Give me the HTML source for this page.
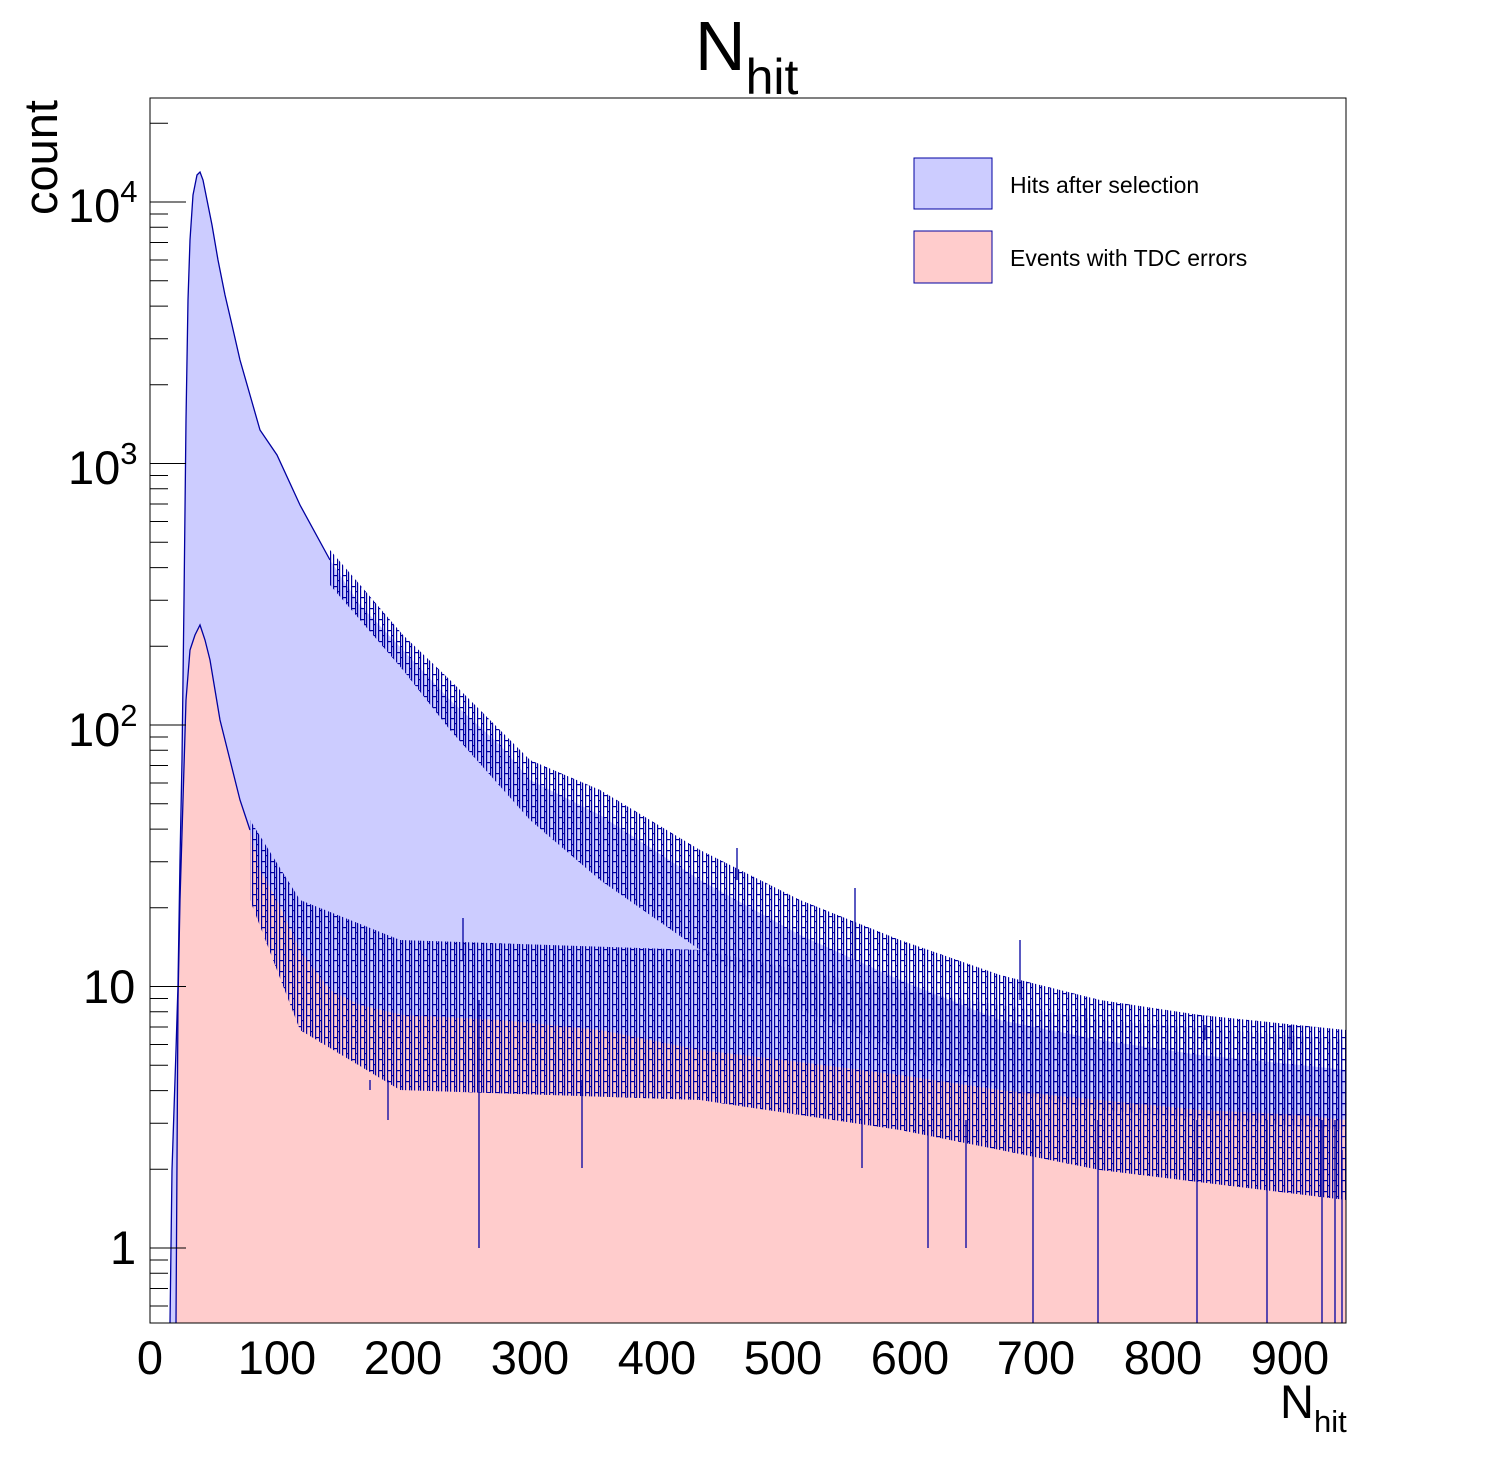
<!DOCTYPE html>
<html><head><meta charset="utf-8"><style>
body{margin:0;background:#fff;}
svg{display:block;font-family:"Liberation Sans",sans-serif;}
</style></head><body>
<svg width="1496" height="1472" xmlns="http://www.w3.org/2000/svg">
<defs>
<clipPath id="c"><rect x="150" y="98" width="1196" height="1225"/></clipPath>
<pattern id="pn" x="0" y="0" width="9" height="11" patternUnits="userSpaceOnUse">
<rect x="0" y="0" width="1.2" height="11" fill="#0000a0"/>
<rect x="4" y="0" width="1.2" height="11" fill="#0000a0"/>
<rect x="6" y="0" width="1.2" height="11" fill="#0000a0"/>
<rect x="0" y="3" width="4" height="1.2" fill="#0000a0"/>
<rect x="5" y="8" width="2" height="1.2" fill="#0000a0"/>
</pattern>
</defs>
<rect width="1496" height="1472" fill="#fff"/>
<g clip-path="url(#c)">
<path fill="#ccccff" d="M170,1323 L172,1170 176,1050 178,985 180,860 182,760 184,600 186,420 188,300 190,240 193,195 197,175 200,172 203,180 207,200 212,225 218,260 225,295 232,325 240,360 250,395 260,430 277,455 300,505 330,560 360,605 403,650 450,700 500,745 530,780 600,815 700,880 800,935 900,980 1000,1020 1100,1040 1200,1055 1300,1065 1346,1070 V1323 Z"/>
<path fill="#ffcccc" d="M176,1323 L178,1000 180,900 183,800 186,700 190,650 195,635 200,625 205,640 210,660 215,690 220,720 230,760 240,800 250,830 260,870 277,900 300,950 330,990 360,1005 403,1015 500,1020 600,1030 700,1050 800,1062 900,1075 1000,1090 1100,1100 1200,1110 1300,1115 1346,1120 V1323 Z"/>
<path fill="url(#pn)" d="M250,820 L300,900 400,940 700,950 900,990 1100,1020 1346,1040 L1346,1200 1100,1170 900,1130 700,1100 400,1090 300,1030 250,900 Z"/>
<path fill="url(#pn)" d="M330,550 L403,635 450,680 530,760 600,790 700,850 800,900 900,940 1000,975 1100,1000 1200,1015 1346,1030 L1346,1130 1100,1110 1000,1090 900,1050 800,1010 700,950 600,880 530,820 450,730 403,670 330,585 Z"/>
<path fill="none" stroke="#0000a0" stroke-width="1.3" d="M170,1323 L172,1170 176,1050 178,985 180,860 182,760 184,600 186,420 188,300 190,240 193,195 197,175 200,172 203,180 207,200 212,225 218,260 225,295 232,325 240,360 250,395 260,430 277,455 300,505 330,560"/>
<path fill="none" stroke="#0000a0" stroke-width="1.3" d="M176,1323 L178,1000 180,900 183,800 186,700 190,650 195,635 200,625 205,640 210,660 215,690 220,720 230,760 240,800 250,830"/>
<g stroke="#0000a0" stroke-width="1.3">
<line x1="479" y1="1000" x2="479" y2="1248"/><line x1="582" y1="1080" x2="582" y2="1168"/>
<line x1="388" y1="1080" x2="388" y2="1120"/><line x1="370" y1="1080" x2="370" y2="1090"/>
<line x1="862" y1="1100" x2="862" y2="1168"/><line x1="928" y1="1120" x2="928" y2="1248"/>
<line x1="966" y1="1120" x2="966" y2="1248"/><line x1="1033" y1="1120" x2="1033" y2="1323"/>
<line x1="1098" y1="1120" x2="1098" y2="1323"/><line x1="1197" y1="1120" x2="1197" y2="1323"/>
<line x1="1267" y1="1120" x2="1267" y2="1323"/><line x1="1322" y1="1120" x2="1322" y2="1323"/>
<line x1="1335" y1="1120" x2="1335" y2="1323"/><line x1="1342" y1="1150" x2="1342" y2="1323"/>
<line x1="1020" y1="1000" x2="1020" y2="940"/><line x1="1085" y1="1030" x2="1085" y2="1008"/>
<line x1="855" y1="960" x2="855" y2="888"/><line x1="737" y1="880" x2="737" y2="848"/>
<line x1="463" y1="960" x2="463" y2="918"/>
<line x1="1205" y1="1040" x2="1205" y2="1025"/><line x1="1290" y1="1050" x2="1290" y2="1025"/>
</g>
</g>
<rect x="150" y="98" width="1196" height="1225" fill="none" stroke="#000" stroke-width="1"/>
<path stroke="#000" stroke-width="1" fill="none" d="
M150,1248H186 M150,986.5H186 M150,725H186 M150,463.5H186 M150,202H186
M150,1306H168 M150,1288.5H168 M150,1273.3H168 M150,1260H168
M150,1169.3H168 M150,1123.2H168 M150,1090.6H168 M150,1065.2H168 M150,1044.5H168 M150,1027H168 M150,1011.8H168 M150,998.5H168
M150,907.8H168 M150,861.7H168 M150,829.1H168 M150,803.7H168 M150,783H168 M150,765.5H168 M150,750.3H168 M150,737H168
M150,646.3H168 M150,600.2H168 M150,567.6H168 M150,542.2H168 M150,521.5H168 M150,504H168 M150,488.8H168 M150,475.5H168
M150,384.8H168 M150,338.7H168 M150,306.1H168 M150,280.7H168 M150,260H168 M150,242.5H168 M150,227.3H168 M150,214H168
M150,123.3H168"/>
<g font-size="47" fill="#000">
<text x="150" y="1374" text-anchor="middle">0</text>
<text x="277" y="1374" text-anchor="middle">100</text>
<text x="403" y="1374" text-anchor="middle">200</text>
<text x="530" y="1374" text-anchor="middle">300</text>
<text x="657" y="1374" text-anchor="middle">400</text>
<text x="783" y="1374" text-anchor="middle">500</text>
<text x="910" y="1374" text-anchor="middle">600</text>
<text x="1036" y="1374" text-anchor="middle">700</text>
<text x="1163" y="1374" text-anchor="middle">800</text>
<text x="1290" y="1374" text-anchor="middle">900</text>
<text x="68" y="222">10<tspan font-size="31" dy="-20">4</tspan></text>
<text x="68" y="484">10<tspan font-size="31" dy="-20">3</tspan></text>
<text x="68" y="746">10<tspan font-size="31" dy="-20">2</tspan></text>
<text x="83" y="1003">10</text>
<text x="110" y="1264">1</text>
<text x="1280" y="1418">N<tspan font-size="31" dy="14">hit</tspan></text>
<text transform="translate(57,215) rotate(-90)">count</text>
</g>
<text x="695" y="70" font-size="70">N<tspan font-size="50" dy="24">hit</tspan></text>
<rect x="914" y="158" width="78" height="51" fill="#ccccff" stroke="#0000a0"/>
<rect x="914" y="231" width="78" height="52" fill="#ffcccc" stroke="#0000a0"/>
<text x="1010" y="193" font-size="23">Hits after selection</text>
<text x="1010" y="266" font-size="23">Events with TDC errors</text>
</svg>
</body></html>
